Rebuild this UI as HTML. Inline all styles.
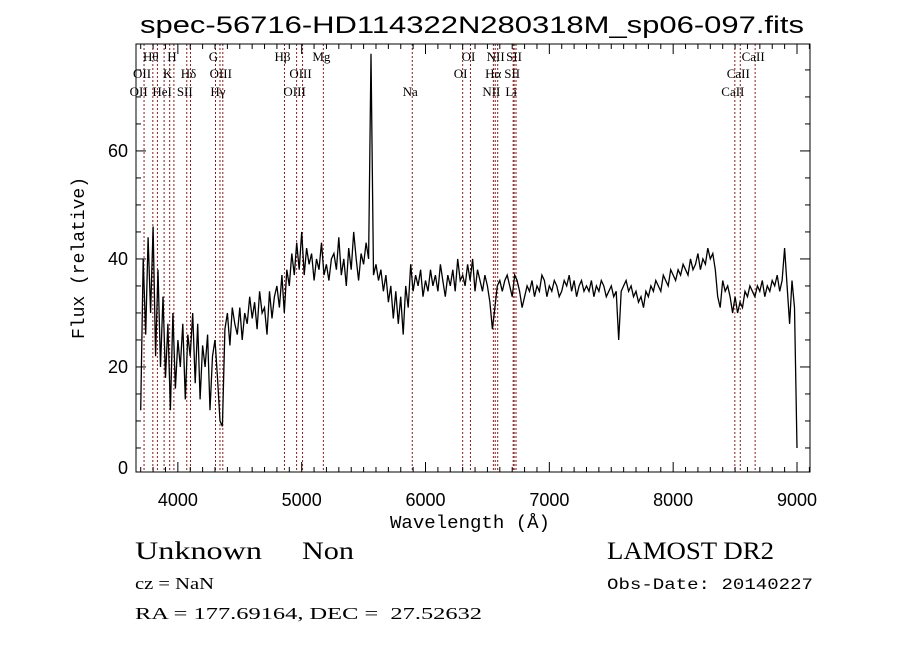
<!DOCTYPE html>
<html><head><meta charset="utf-8"><style>
body{margin:0;background:#fff}
svg{display:block}
</style></head><body>
<svg id="chart" width="900" height="649" xmlns="http://www.w3.org/2000/svg" font-family="Liberation Serif, serif">
<rect x="0" y="0" width="900" height="649" fill="#fff"/>
<text x="472" y="33" font-family="Liberation Sans, sans-serif" font-size="24" text-anchor="middle" textLength="664" lengthAdjust="spacingAndGlyphs">spec-56716-HD114322N280318M_sp06-097.fits</text>
<g id="lines"></g>
<g id="labels"></g>
<g id="spec"></g>
<g id="axes"></g>
<text x="470" y="528" font-family="Liberation Mono, monospace" font-size="18" text-anchor="middle" textLength="160" lengthAdjust="spacingAndGlyphs">Wavelength (Å)</text>
<text x="0" y="0" transform="translate(84,258) rotate(-90)" font-family="Liberation Mono, monospace" font-size="18" text-anchor="middle">Flux (relative)</text>
<text x="135" y="559" font-size="25" textLength="127" lengthAdjust="spacingAndGlyphs">Unknown</text>
<text x="302" y="559" font-size="25" textLength="52" lengthAdjust="spacingAndGlyphs">Non</text>
<text x="607" y="559" font-size="25" textLength="167" lengthAdjust="spacingAndGlyphs">LAMOST DR2</text>
<text x="135" y="589" font-size="17" textLength="79" lengthAdjust="spacingAndGlyphs">cz = NaN</text>
<text x="607" y="589" font-family="Liberation Mono, monospace" font-size="16" textLength="206" lengthAdjust="spacingAndGlyphs">Obs-Date: 20140227</text>
<text x="135" y="619" font-size="17" textLength="347" lengthAdjust="spacingAndGlyphs" xml:space="preserve">RA = 177.69164, DEC =  27.52632</text>
</svg>
<script>
const waveStart = 3700, waveStep = 20;
const flux = [
12,40,26,44,30,46,22,38,20,33,
18,28,12,30,16,25,20,28,14,26,
22,30,17,28,14,24,20,26,12,22,
25,18,10,9,27,30,24,31,28,26,
31,25,30,28,33,29,32,27,34,30,
31,26,34,29,33,35,31,37,30,38,
35,41,37,43,38,45,37,42,39,41,
36,40,38,43,37,39,36,40,41,38,
44,37,40,35,42,38,45,40,36,41,
39,43,40,78,37,39,36,38,34,37,
32,35,29,34,28,33,26,35,31,39,
34,37,35,38,33,36,34,38,35,37,
34,39,36,33,37,35,38,34,40,36,
37,35,39,36,40,34,38,36,34,37,
35,32,27,31,35,36,34,36,37,35,
33,37,36,34,31,33,35,34,36,33,
35,34,37,36,33,35,34,36,35,33,
34,36,35,37,34,36,33,35,36,34,
35,34,36,33,35,34,36,35,33,34,
35,33,34,25,34,35,36,34,35,33,
34,32,33,31,34,33,35,34,36,35,
34,37,36,35,38,37,36,38,37,39,
38,37,40,38,39,41,38,40,39,42,
40,41,38,33,31,36,34,35,33,30,
33,30,32,31,34,33,35,34,33,35,
34,36,33,35,34,36,35,37,34,36,
42,35,28,36,31,5];
const lineWaves = [3727,3798,3835,3889,3934,3968,4072,4102,4304,4340,4363,4861,4959,5007,5175,5893,6300,6363,6548,6563,6583,6708,6716,6731,8498,8542,8662];
const labelTexts = ["Hθ","H","G","Hβ","Mg","OI","NII","SII","CaII","OII","K","Hδ","OIII","OIII","OI","Hα","SII","CaII","OII","HeI","SII","Hγ","OIII","Na","NII","Li","CaII"];
const labelWaves = [3798,3968,4304,4861,5175,6363,6583,6731,8662,3727,3934,4102,4363,5007,6300,6563,6716,8542,3700,3889,4072,4340,4959,5893,6548,6708,8498];
const labelRows = [0,0,0,0,0,0,0,0,0,1,1,1,1,1,1,1,1,1,2,2,2,2,2,2,2,2,2];
const xTicks = [4000,5000,6000,7000,8000,9000];
const yTicks = [0,20,40,60];
const NS="http://www.w3.org/2000/svg";
const L=136,R=810,T=44,B=472, xmin=3662, xmax=9105, ymin=0.55, ymax=79.8;
const X=w=>L+(w-xmin)/(xmax-xmin)*(R-L);
const Y=v=>B-(v-ymin)/(ymax-ymin)*(B-T);
function mk(tag,attrs,parent){const e=document.createElementNS(NS,tag);for(const k in attrs)e.setAttribute(k,attrs[k]);parent.appendChild(e);return e;}
const gl=document.getElementById('lines');
lineWaves.forEach(w=>{const e=mk('line',{x1:X(w),x2:X(w),y1:T,y2:B,stroke:'#8b1a1a','stroke-width':1,'stroke-dasharray':'2,2'},gl);

});
const glb=document.getElementById('labels');
const rowY=[61,78,96];
labelTexts.forEach((t,i)=>{const e=mk('text',{x:X(labelWaves[i])-2,y:rowY[labelRows[i]],'font-size':13,'text-anchor':'middle'},glb);e.textContent=t;

});
const gs=document.getElementById('spec');
const pts=flux.map((v,i)=>X(waveStart+i*waveStep).toFixed(1)+','+Math.max(T,Math.min(B,Y(v))).toFixed(1)).join(' ');
const pl=mk('polyline',{points:pts,fill:'none',stroke:'#000','stroke-width':1.3},gs);


const ga=document.getElementById('axes');
const fr=mk('rect',{x:L,y:T,width:R-L,height:B-T,fill:'none',stroke:'#000','stroke-width':1},ga);


for(let w=3700;w<=9100;w+=100){const len=(w%1000===0)?10:5;
mk('line',{x1:X(w),x2:X(w),y1:B,y2:B-len,stroke:'#000'},ga);
mk('line',{x1:X(w),x2:X(w),y1:T,y2:T+len,stroke:'#000'},ga);}
for(let v=5;v<=75;v+=5){const len=(v%20===0)?10:5;
mk('line',{x1:L,x2:L+len,y1:Y(v),y2:Y(v),stroke:'#000'},ga);
mk('line',{x1:R,x2:R-len,y1:Y(v),y2:Y(v),stroke:'#000'},ga);}
xTicks.forEach(w=>{const e=mk('text',{x:X(w),y:B+34,'font-family':'Liberation Sans, sans-serif','font-size':18,'text-anchor':'middle'},ga);e.textContent=w;

});
yTicks.forEach(v=>{const e=mk('text',{x:L-8,y:(v===0?B+2:Y(v)+6),'font-family':'Liberation Sans, sans-serif','font-size':18,'text-anchor':'end'},ga);e.textContent=v;

});
</script>
</body></html>
